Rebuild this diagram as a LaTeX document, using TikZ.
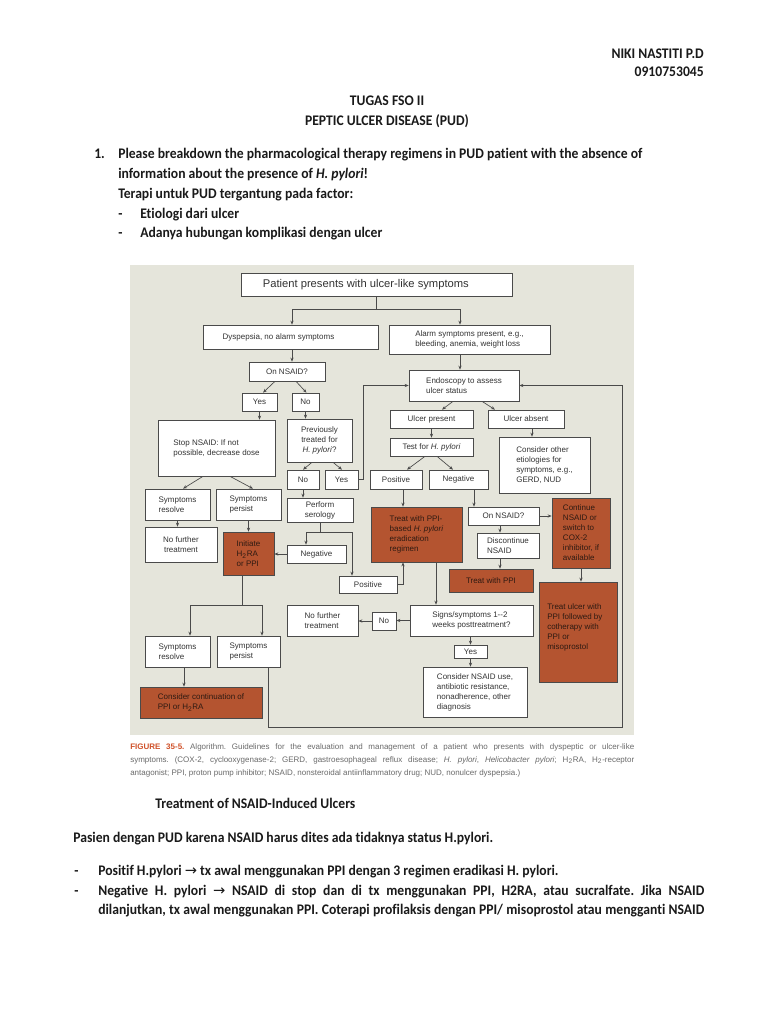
\documentclass[tikz,border=0pt]{standalone}
\usepackage{fontspec}
\usetikzlibrary{arrows.meta,calc}
\newfontfamily\docfont{Carlito}[FakeStretch=0.93,Ligatures={NoCommon}]
\newfontfamily\flowfont{Liberation Sans}
\newfontfamily\symfont{DejaVu Sans}
\definecolor{panel}{HTML}{E5E5DB}
\definecolor{rust}{RGB}{180,84,48}
\definecolor{linec}{HTML}{4A4A4A}
\definecolor{boxtext}{HTML}{333333}
\definecolor{rusttext}{HTML}{2E1A12}
\definecolor{figred}{HTML}{D0522A}
\definecolor{captext}{HTML}{6A6A6A}
\definecolor{doctext}{HTML}{1A1A1A}
\tikzset{
  box/.style={draw=linec, line width=0.5pt, fill=white, inner sep=1pt, align=left, text=boxtext,
    font=\flowfont\fontsize{6}{7.5}\selectfont},
  rbox/.style={box, fill=rust, text=rusttext},
  arr/.style={draw=linec, line width=0.5pt, -{Stealth[length=3pt,width=2.4pt]}},
  ln/.style={draw=linec, line width=0.5pt},
  doc/.style={inner sep=0pt, text=doctext, font=\docfont\bfseries\fontsize{11}{13}\selectfont},
  capstyle/.style={inner sep=0pt, text=captext, align=left, font=\flowfont\fontsize{6}{9.75}\selectfont}
}
\newcommand{\flowbox}[7][]{%
  \node[box,#1,minimum width={(#5-#3)*0.75pt},minimum height={(#6-#4)*0.75pt}] (#2) at ({(#3+#5)/2},{(#4+#6)/2}) {#7};}
\frenchspacing
\begin{document}
\begin{tikzpicture}[x=0.75pt,y=-0.75pt]
\frenchspacing
\useasboundingbox (0,0) rectangle (768,1024);
\fill[white] (0,0) rectangle (768,1024);
\fill[panel] (130,265) rectangle (634,735);

% ---------- document text ----------
\node[doc,anchor=base east] (author) at (704,59) {NIKI NASTITI P.D};
\node[doc,anchor=base east] (nim) at (704,77) {0910753045};
\node[doc,anchor=base] (tugas) at (387,105) {TUGAS FSO II};
\node[doc,anchor=base] (pud) at (387,125) {PEPTIC ULCER DISEASE (PUD)};
\node[doc,anchor=base west] (num1) at (94,158) {1.};
\node[doc,anchor=base west] (q1) at (118,158) {Please breakdown the pharmacological therapy regimens in PUD patient with the absence of};
\node[doc,anchor=base west] (q2) at (118,178) {information about the presence of \textit{H. pylori}!};
\node[doc,anchor=base west] (q3) at (118,198) {Terapi untuk PUD tergantung pada factor:};
\node[doc,anchor=base west] (da) at (118,218) {-};
\node[doc,anchor=base west] (ba) at (140,218) {Etiologi dari ulcer};
\node[doc,anchor=base west] (db) at (118,237) {-};
\node[doc,anchor=base west] (bb) at (140,237) {Adanya hubungan komplikasi dengan ulcer};

% ---------- flowchart boxes ----------
\flowbox[font=\flowfont\fontsize{8.4}{10}\selectfont]{top}{241}{273}{512}{296}{Patient presents with ulcer-like symptoms\hspace*{16pt}}
\flowbox{dysp}{203}{325}{378}{349}{Dyspepsia, no alarm symptoms\hspace*{18pt}}
\flowbox{alarm}{389}{325}{550}{354}{Alarm symptoms present, e.g.,\\bleeding, anemia, weight loss}
\flowbox{onnsaid}{249}{362}{325}{381}{On NSAID?}
\flowbox{endo}{409}{370}{519}{401}{Endoscopy to assess\\ulcer status}
\flowbox{yesa}{242}{393}{277}{411}{Yes}
\flowbox{noa}{292}{393}{319}{411}{No}
\flowbox{stop}{158}{420}{275}{476}{Stop NSAID: If not\\possible, decrease dose}
\flowbox[align=center]{prev}{287}{419}{352}{462}{Previously\\treated for\\\textit{H. pylori}?}
\flowbox{upres}{390}{410}{473}{428}{Ulcer present}
\flowbox{uabs}{488}{410}{564}{428}{Ulcer absent}
\flowbox{test}{390}{438}{473}{456}{Test for \textit{H. pylori}}
\flowbox{cons}{499}{437}{590}{493}{Consider other\\etiologies for\\symptoms, e.g.,\\GERD, NUD}
\flowbox{nob}{287}{470}{319}{489}{No}
\flowbox{yesb}{325}{470}{358}{489}{Yes}
\flowbox{posa}{370}{470}{422}{489}{Positive}
\flowbox{nega}{429}{470}{488}{489}{Negative}
\flowbox{resa}{145}{489}{210}{520}{Symptoms\\resolve}
\flowbox{pera}{216}{489}{281}{520}{Symptoms\\persist}
\flowbox[align=center]{serol}{287}{498}{353}{522}{Perform\\serology}
\flowbox[align=center]{nofura}{145}{527}{217}{562}{No further\\treatment}
\flowbox[rbox]{init}{223}{532}{274}{575}{Initiate\\H\textsubscript{2}RA\\or PPI}
\flowbox{negb}{287}{545}{346}{563}{Negative}
\flowbox[rbox]{treath}{371}{507}{462}{562}{Treat with PPI-\\based \textit{H. pylori}\\eradication\\regimen}
\flowbox{onnsb}{468}{507}{539}{525}{On NSAID?}
\flowbox[rbox]{cont}{552}{498}{610}{568}{Continue\\NSAID or\\switch to\\COX-2\\inhibitor, if\\available}
\flowbox{disc}{477}{533}{539}{558}{Discontinue\\NSAID}
\flowbox{posb}{339}{576}{397}{593}{Positive}
\flowbox[rbox]{treatppi}{449}{569}{533}{592}{Treat with PPI}
\flowbox[rbox]{treatulc}{539}{582}{617}{682}{}
\node[anchor=north west, inner sep=0pt, align=left, text=rusttext, font=\flowfont\fontsize{6}{7.5}\selectfont] (treatulctext) at (547,603) {Treat ulcer with\\PPI followed by\\cotherapy with\\PPI or\\misoprostol};
\flowbox{signs}{410}{605}{533}{636}{Signs/symptoms 1--2\\weeks posttreatment?}
\flowbox{noc}{372}{612}{396}{630}{No}
\flowbox{nofurb}{287}{605}{358}{636}{No further\\treatment}
\flowbox{yesc}{454}{645}{487}{658}{Yes}
\flowbox{consn}{423}{667}{527}{717}{Consider NSAID use,\\antibiotic resistance,\\nonadherence, other\\diagnosis}
\flowbox{resb}{145}{636}{210}{667}{Symptoms\\resolve}
\flowbox{perb}{217}{636}{280}{667}{Symptoms\\persist}
\flowbox[rbox]{contin}{140}{687}{262}{718}{Consider continuation of\\PPI or H\textsubscript{2}RA}

% ---------- helper coordinates ----------
\coordinate (jl) at (292,309);
\coordinate (jr) at (460,309);
\coordinate (jsl) at (306,532);
\coordinate (jsr) at (352,532);
\coordinate (xp) at (403,0);
\coordinate (xn) at (474,0);
\coordinate (xt) at (436,0);
\coordinate (xo) at (500,0);
\coordinate (xc) at (532,0);
\coordinate (ye) at (363,0);
\coordinate (ji) at (242,605);
\coordinate (jil) at (190,605);
\coordinate (jir) at (262,605);
\coordinate (xr) at (184,0);
\coordinate (lpa) at (268,727);
\coordinate (lpb) at (622,727);

% ---------- connectors ----------
\draw[ln] (top.south) -- (top.south |- jl);
\draw[ln] (jl) -- (jr);
\draw[arr] (jl) -- (jl |- dysp.north);
\draw[arr] (jr) -- (jr |- alarm.north);
\draw[arr] (jl |- dysp.south) -- (jl |- onnsaid.north);
\draw[arr] (jr |- alarm.south) -- (jr |- endo.north);
\draw[arr] ($(onnsaid.south)+(-12,0)$) -- ($(yesa.north)+(3.5,0)$);
\draw[arr] ($(onnsaid.south)+(9,0)$) -- ($(noa.north)+(1,0)$);
\draw[arr] (yesa.south) -- (yesa.south |- stop.north);
\draw[arr] (noa.south) -- (noa.south |- prev.north);
\draw[arr] ($(stop.south)+(-13.5,0)$) -- ($(resa.north)+(5.5,0)$);
\draw[arr] ($(stop.south)+(13.5,0)$) -- ($(pera.north)+(4.5,0)$);
\draw[arr] (resa.south) -- (resa.south |- nofura.north);
\draw[arr] (pera.south) -- (pera.south |- init.north);
\draw[arr] ($(prev.south)+(-7.5,0)$) -- (nob.north);
\draw[arr] ($(prev.south)+(13.5,0)$) -- ($(yesb.north)+(0.5,0)$);
\draw[arr] (yesb.east) -- (yesb.east -| ye) |- (endo.west);
\draw[arr] ($(endo.south)+(-11,0)$) -- ($(upres.north)+(10.5,0)$);
\draw[arr] ($(endo.south)+(18,0)$) -- ($(uabs.north)+(-31,0)$);
\draw[arr] (upres.south) -- (upres.south |- test.north);
\draw[arr] (uabs.south -| xc) -- (cons.north -| xc);
\draw[arr] ($(test.south)+(-6.5,0)$) -- ($(posa.north)+(11,0)$);
\draw[arr] ($(test.south)+(5.5,0)$) -- ($(nega.north)+(-5.5,0)$);
\draw[arr] (nob.south) -- (nob.south |- serol.north);
\draw[ln] (serol.south) -- (serol.south |- jsl);
\draw[ln] (jsl) -- (jsr);
\draw[arr] (jsl) -- (jsl |- negb.north);
\draw[arr] (jsr) -- (jsr |- posb.north);
\draw[arr] (negb.west) -- (negb.west -| init.east);
\draw[arr] (posa.south -| xp) -- (treath.north -| xp);
\draw[arr] (posb.east) -| (treath.south -| xp);
\draw[arr] (nega.south -| xn) -- (onnsb.north -| xn);
\draw[arr] (onnsb.east) -- (onnsb.east -| cont.west);
\draw[arr] (onnsb.south -| xo) -- (disc.north -| xo);
\draw[arr] (disc.south -| xo) -- (treatppi.north -| xo);
\draw[arr] (cont.south) -- (cont.south |- treatulc.north);
\draw[arr] (treath.south -| xt) -- (signs.north -| xt);
\draw[arr] (signs.west) -- (signs.west -| noc.east);
\draw[arr] (noc.west) -- (noc.west -| nofurb.east);
\draw[arr] (yesc.north |- signs.south) -- (yesc.north);
\draw[arr] (yesc.south) -- (yesc.south |- consn.north);
\draw[ln] (init.south -| ji) -- (ji);
\draw[ln] (jil) -- (jir);
\draw[arr] (jil) -- (jil |- resb.north);
\draw[arr] (jir) -- (jir |- perb.north);
\draw[arr] (resb.south -| xr) -- (contin.north -| xr);
\draw[arr] (perb.south -| lpa) -- (lpa) -- (lpb) |- (endo.east);

% ---------- caption ----------
\node[capstyle,anchor=north west] (caption) at (130,743) {%
\makebox[378pt][s]{{\color{figred}\bfseries FIGURE 35-5.} Algorithm. Guidelines for the evaluation and management of a patient who presents with dyspeptic or ulcer-like}\\
\makebox[378pt][s]{symptoms. (COX-2, cyclooxygenase-2; GERD, gastroesophageal reflux disease; \textit{H. pylori}, \textit{Helicobacter pylori}; H\textsubscript{2}RA, H\textsubscript{2}-receptor}\\
antagonist; PPI, proton pump inhibitor; NSAID, nonsteroidal antiinflammatory drug; NUD, nonulcer dyspepsia.)};

% ---------- lower document text ----------
\node[doc,anchor=base west] (treat) at (155,808) {Treatment of NSAID-Induced Ulcers};
\node[doc,anchor=base west] (pasien) at (73,842) {Pasien dengan PUD karena NSAID harus dites ada tidaknya status H.pylori.};
\node[doc,anchor=base west] (dc) at (74,875) {-};
\node[doc,anchor=base west] (pa) at (98,875) {Positif H.pylori {\symfont\mdseries →} tx awal menggunakan PPI dengan 3 regimen eradikasi H. pylori.};
\node[doc,anchor=base west] (dd) at (74,895) {-};
\node[doc,anchor=base west] (pb) at (98,895) {\makebox[454.5pt][s]{Negative H. pylori {\symfont\mdseries →} NSAID di stop dan di tx menggunakan PPI, H2RA, atau sucralfate. Jika NSAID}};
\node[doc,anchor=base west] (pc) at (98,914) {\makebox[454.5pt][s]{dilanjutkan, tx awal menggunakan PPI. Coterapi profilaksis dengan PPI/ misoprostol atau mengganti NSAID}};
\end{tikzpicture}
\end{document}
